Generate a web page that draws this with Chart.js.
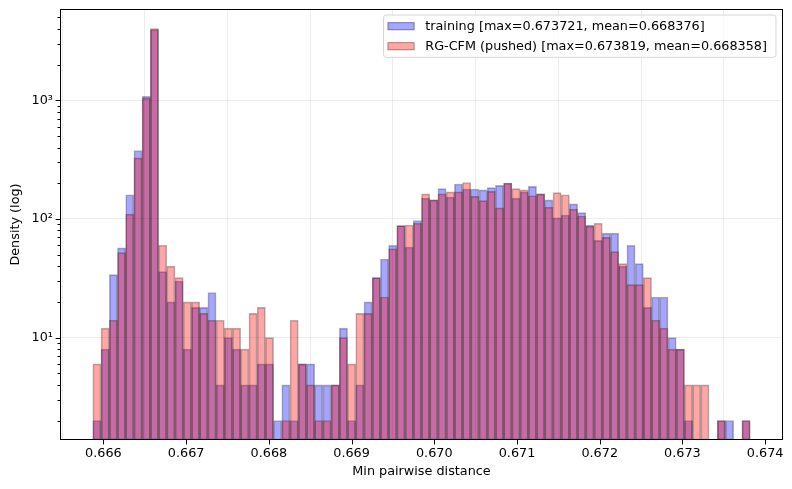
<!DOCTYPE html>
<html><head><meta charset="utf-8">
<script src="https://cdn.jsdelivr.net/npm/chart.js@4.4.1/dist/chart.umd.min.js"></script>
<style>html,body{margin:0;padding:0;background:#fff;}#wrap{width:792px;height:489px;}</style>
</head><body><div id="wrap"><canvas id="c" width="792" height="489"></canvas></div>
<script>
// ---- data ----
const binLow = 0.665872;
const binHigh = 0.673819;
const binCount = 80;
const trainingDensity = [2,8,34,57,160,378,1080,3950,36,20,30,8,18,18,24,4,10,8,4,4,
  6,6,2,4,2,6,6,4,4,4,12,2,4,20,32,46,60,88,58,97,
  150,145,180,153,197,179,179,176,184,192,201,150,169,188,163,145,102,108,134,113,
  89,66,76,76,40,60,42,18,22,22,10,8,2,0,0,0,2,2,0,2];
const rgcfmDensity = [6,12,14,52,110,327,1045,4030,60,40,32,20,20,16,14,14,12,12,8,16,
  18,10,0,2,14,6,4,2,2,4,10,6,16,16,32,22,56,88,89,92,
  163,145,163,169,169,203,155,143,171,124,200,180,176,157,163,126,167,160,121,106,
  87,92,70,53,42,28,28,32,14,12,8,8,4,4,4,0,2,0,0,2];
const xTickValues = [0.666,0.667,0.668,0.669,0.670,0.671,0.672,0.673,0.674];
const yMajorTicks = [10,100,1000];
const yTickLabels = {10:'10\u00B9',100:'10\u00B2',1000:'10\u00B3'};
const seriesLabels = ['training [max=0.673721, mean=0.668376]','RG-CFM (pushed) [max=0.673819, mean=0.668358]'];
const xAxisLabel = 'Min pairwise distance';
const yAxisLabel = 'Density (log)';

// ---- derived ----
const binCenters = Array.from({length: binCount}, (_, i) => binLow + (i + 0.5) * (binHigh - binLow) / binCount);
const toPoints = arr => binCenters.map((x, i) => ({x, y: arr[i] > 0 ? arr[i] : null}));

const FONT = 'DejaVu Sans';
const FS = 12.8;
Chart.defaults.font.family = FONT;
Chart.defaults.font.size = FS;
Chart.defaults.color = '#000';

const colors = [
  {bg: 'rgba(0,0,255,0.35)', border: 'rgba(0,0,0,0.3)'},
  {bg: 'rgba(255,0,0,0.35)', border: 'rgba(0,0,0,0.3)'}
];

function yTicksFull(min, max) {
  const out = [];
  for (let e = 0; e <= 4; e++) {
    for (let m = 1; m <= 9; m++) {
      const v = m * Math.pow(10, e);
      if (v >= min && v <= max) out.push({value: v, major: m === 1});
    }
  }
  return out;
}

const decor = {
  id: 'decor',
  afterDraw(chart) {
    const {ctx, chartArea: a, scales} = chart;
    const x = scales.x, y = scales.y;
    ctx.save();
    ctx.strokeStyle = '#000';
    ctx.lineWidth = 1;
    ctx.beginPath();
    x.ticks.forEach(t => {
      const px = Math.round(x.getPixelForValue(t.value)) + 0.5;
      ctx.moveTo(px, a.bottom); ctx.lineTo(px, a.bottom + 4.4);
    });
    y.ticks.forEach(t => {
      const py = Math.round(y.getPixelForValue(t.value)) + 0.5;
      const len = t.major ? 4.4 : 2.5;
      ctx.moveTo(a.left, py); ctx.lineTo(a.left - len, py);
    });
    ctx.stroke();
    ctx.strokeRect(Math.round(a.left) + 0.5, Math.round(a.top) + 0.5, Math.round(a.right - a.left) - 1, Math.round(a.bottom - a.top) - 1);

    // legend
    ctx.font = FS + 'px "' + FONT + '"';
    const ds = chart.data.datasets;
    const widths = ds.map(d => ctx.measureText(d.label).width);
    const maxW = Math.max(...widths);
    const boxW = 41.7 + maxW + 9;
    const boxH = 42.3;
    const right = a.right - 7;
    const left = right - boxW;
    const top = a.top + 6;
    const r = 2.5;
    ctx.beginPath();
    ctx.moveTo(left + r, top);
    ctx.lineTo(left + boxW - r, top);
    ctx.arcTo(left + boxW, top, left + boxW, top + r, r);
    ctx.lineTo(left + boxW, top + boxH - r);
    ctx.arcTo(left + boxW, top + boxH, left + boxW - r, top + boxH, r);
    ctx.lineTo(left + r, top + boxH);
    ctx.arcTo(left, top + boxH, left, top + boxH - r, r);
    ctx.lineTo(left, top + r);
    ctx.arcTo(left, top, left + r, top, r);
    ctx.closePath();
    ctx.fillStyle = 'rgba(255,255,255,0.8)';
    ctx.fill();
    ctx.strokeStyle = 'rgba(204,204,204,0.8)';
    ctx.lineWidth = 1;
    ctx.stroke();
    ds.forEach((d, i) => {
      const cy = top + 11.2 + i * 20;
      ctx.fillStyle = d.backgroundColor;
      ctx.fillRect(left + 4, cy - 4, 27, 8);
      ctx.strokeStyle = d.borderColor;
      ctx.strokeRect(left + 4.5, cy - 3.5, 26, 7);
      ctx.fillStyle = '#000';
      ctx.textBaseline = 'middle';
      ctx.textAlign = 'left';
      ctx.fillText(d.label, left + 41.7, cy + 0.5);
    });
    ctx.restore();
  }
};

const noPad = s => { s.paddingTop = 0; s.paddingBottom = 0; s.paddingLeft = 0; s.paddingRight = 0; };

new Chart(document.getElementById('c'), {
  type: 'bar',
  data: {
    datasets: [
      {label: seriesLabels[0], data: toPoints(trainingDensity), backgroundColor: colors[0].bg, borderColor: colors[0].border,
       borderWidth: 1, borderSkipped: false, grouped: false, barPercentage: 1, categoryPercentage: 1, order: 2},
      {label: seriesLabels[1], data: toPoints(rgcfmDensity), backgroundColor: colors[1].bg, borderColor: colors[1].border,
       borderWidth: 1, borderSkipped: false, grouped: false, barPercentage: 1, categoryPercentage: 1, order: 1}
    ]
  },
  options: {
    responsive: false,
    animation: false,
    devicePixelRatio: 1,
    layout: {padding: {left: 0, right: 9, top: 9, bottom: 0}},
    plugins: {legend: {display: false}, tooltip: {enabled: false}},
    scales: {
      x: {
        type: 'linear', min: 0.665475, max: 0.674216, offset: false, z: 1,
        afterBuildTicks: s => { s.ticks = xTickValues.map(v => ({value: v})); },
        afterFit: s => { s.height = 49; noPad(s); },
        ticks: {autoSkip: false, maxRotation: 0, padding: 6, callback: v => Number(v).toFixed(3)},
        grid: {color: 'rgba(176,176,176,0.3)', lineWidth: 0.8, drawTicks: false},
        border: {display: false},
        title: {display: true, text: xAxisLabel, padding: {top: 0, bottom: 10}}
      },
      y: {
        type: 'logarithmic', min: 1.37, max: 5890, z: 1,
        afterBuildTicks: s => { s.ticks = yTicksFull(s.min, s.max); },
        afterFit: s => { s.width = 60; noPad(s); },
        ticks: {autoSkip: false, padding: 7, callback: v => yTickLabels[v] || ''},
        grid: {color: c => (c.tick && c.tick.major) ? 'rgba(176,176,176,0.3)' : 'rgba(0,0,0,0)', lineWidth: 0.8, drawTicks: false},
        border: {display: false},
        title: {display: true, text: yAxisLabel, padding: {top: 8, bottom: 0}}
      }
    }
  },
  plugins: [decor]
});
</script>
</body></html>
